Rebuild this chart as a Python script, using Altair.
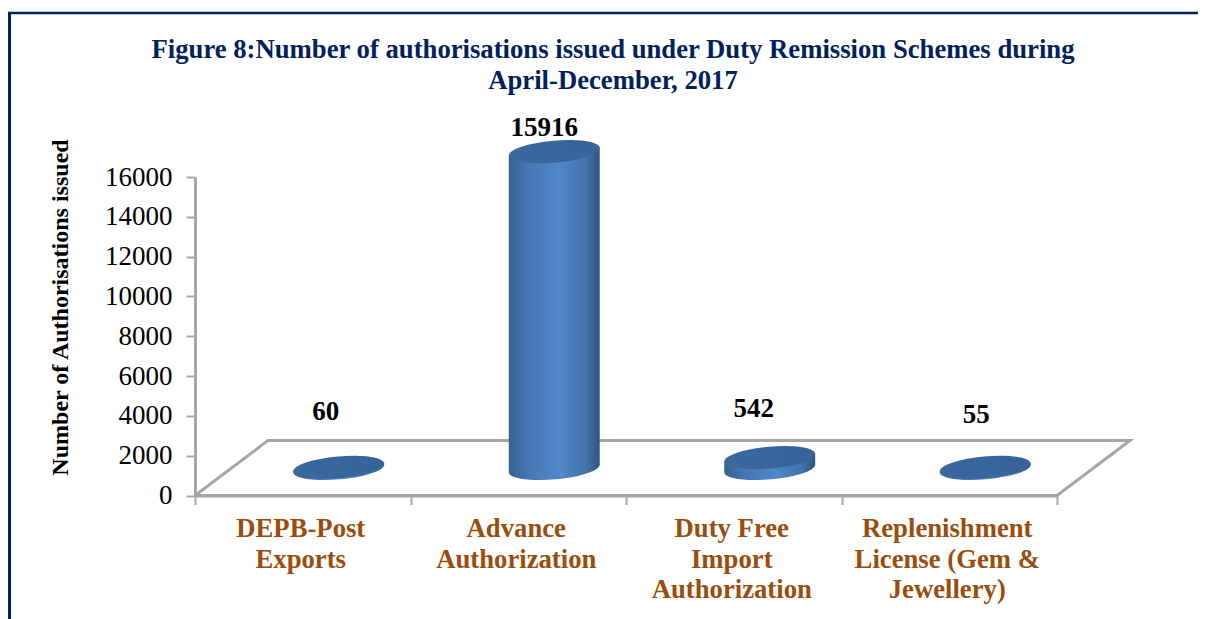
import altair as alt
import pandas as pd

# ---- chart values ----
CATEGORY_LABELS = ["DEPB-Post\nExports", "Advance\nAuthorization",
                   "Duty Free\nImport\nAuthorization",
                   "Replenishment\nLicense (Gem &\nJewellery)"]
CATEGORY_POS = [0.5, 1.5, 2.5, 3.5]
VALUES = [60, 15916, 542, 55]
Y_TICKS = [0, 2000, 4000, 6000, 8000, 10000, 12000, 14000, 16000]
X_TICKS = [0, 1, 2, 3, 4]
TITLE = "Figure 8:Number of authorisations issued under Duty Remission Schemes during\nApril-December, 2017"
Y_TITLE = "Number of Authorisations issued"

# ---- faux 3D projection, in data units ----
DEPTH_X, DEPTH_Y = 0.167, 1358
HALF_W = 0.211
SLANT = 190
FLOOR_X = [0, 0.339, 4.339, 4, 0]
FLOOR_Y = [0, 2767, 2767, 0, 0]

# ---- styles ----
SERIF = "Liberation Serif"
GREY = "#a6a6a6"
NAVY = "#002060"
BROWN = "#9a4d0c"
ELLIPSE = "M-1,0 A1,0.24 0 1,1 1,0 A1,0.24 0 1,1 -1,0 Z"
E_SIZE = 8300
LABEL_SHIFT = [(23, -74), (26, -43), (20, -68), (27, -71)]

body_fill = alt.LinearGradient(gradient="linear", x1=0, x2=1, y1=0, y2=0, stops=[
    alt.GradientStop(color="#36618f", offset=0),
    alt.GradientStop(color="#4676b0", offset=0.2),
    alt.GradientStop(color="#5088cb", offset=0.55),
    alt.GradientStop(color="#4272a8", offset=0.85),
    alt.GradientStop(color="#2f5680", offset=1),
])
top_fill = alt.LinearGradient(gradient="linear", x1=0, x2=1, y1=0, y2=0, stops=[
    alt.GradientStop(color="#3a689f", offset=0),
    alt.GradientStop(color="#376398", offset=1),
])

df = pd.DataFrame({"label": CATEGORY_LABELS, "pos": CATEGORY_POS, "value": VALUES})
df["cx"] = df["pos"] + DEPTH_X
df["base"] = DEPTH_Y
df["top"] = df["value"] + DEPTH_Y

floor = pd.DataFrame({"x": FLOOR_X, "y": FLOOR_Y, "o": range(len(FLOOR_X))})

x_scale = alt.Scale(domain=[0, 4], range=[187, 1049], nice=False, zero=False)
y_scale = alt.Scale(domain=[0, 16000], range=[487.5, 169], nice=False)

x_axis = alt.Axis(
    values=X_TICKS, labels=False, title=None, grid=False, offset=-123.5,
    domainColor=GREY, domainWidth=3, tickColor=GREY, tickWidth=2, tickSize=9)
y_axis = alt.Axis(
    values=Y_TICKS, format="d", title=Y_TITLE, grid=False, offset=-187,
    domainColor=GREY, domainWidth=3, tickColor=GREY, tickWidth=2, tickSize=9,
    labelFont=SERIF, labelFontSize=27, labelColor="black", labelPadding=14,
    titleFont=SERIF, titleFontSize=24, titleFontWeight="bold", titleColor="black",
    titleX=-123, titleY=299)

X = lambda f: alt.X(f, type="quantitative", scale=x_scale, axis=x_axis)
Y = lambda f: alt.Y(f, type="quantitative", scale=y_scale, axis=y_axis)

axes = alt.Chart(floor).mark_line(stroke=GREY, strokeWidth=3, strokeJoin="miter").encode(
    x=X("x"), y=Y("y"), order="o:Q")

base = alt.Chart(df).mark_point(shape=ELLIPSE, size=E_SIZE, filled=True, opacity=1,
                                fill=body_fill, angle=355, strokeWidth=0).encode(
    x=X("cx"), y=Y("base"))

cyl_layers = []
for c, v in zip(df["cx"], VALUES):
    seg = pd.DataFrame({
        "x": [c - HALF_W, c + HALF_W],
        "y": [DEPTH_Y + v - SLANT, DEPTH_Y + v + SLANT],
        "y0": [DEPTH_Y - SLANT, DEPTH_Y + SLANT],
    })
    cyl_layers.append(alt.Chart(seg).mark_area(fill=body_fill, opacity=1).encode(
        x=X("x"), y=Y("y"), y2=alt.Y2("y0")))

top = alt.Chart(df).mark_point(shape=ELLIPSE, size=E_SIZE, filled=True, opacity=1,
                               fill=top_fill, angle=355, strokeWidth=0).encode(
    x=X("cx"), y=Y("top"))

value_layers = [
    alt.Chart(df.iloc[[i]]).mark_text(font=SERIF, fontSize=27, fontWeight="bold", color="black",
                                      baseline="alphabetic", dx=dx, dy=dy).encode(
        x=X("pos"), y=Y("value"), text="value:Q")
    for i, (dx, dy) in enumerate(LABEL_SHIFT)
]

cats = alt.Chart(df).mark_text(font=SERIF, fontSize=26.7, fontWeight="bold", color=BROWN,
                               baseline="alphabetic", lineBreak="\n", lineHeight=30.5, dx=-2).encode(
    x=X("pos"), y=alt.value(529), text="label:N")

title = alt.Chart(pd.DataFrame({"t": [TITLE]})).mark_text(
    font=SERIF, fontSize=26.7, fontWeight="bold", color=NAVY, baseline="alphabetic",
    lineBreak="\n", lineHeight=31).encode(x=alt.value(605), y=alt.value(50), text="t:N")

frame_src = pd.DataFrame({"a": [0]})
frame_top = alt.Chart(frame_src).mark_rule(color=NAVY, strokeWidth=2.5).encode(
    x=alt.value(0), x2=alt.value(1190), y=alt.value(5))
frame_left = alt.Chart(frame_src).mark_rule(color=NAVY, strokeWidth=3).encode(
    x=alt.value(1.5), y=alt.value(4), y2=alt.value(611))

chart = alt.layer(axes, base, *cyl_layers, top, *value_layers, cats, title, frame_top, frame_left).properties(
    width=1190, height=611, padding=0,
    autosize=alt.AutoSizeParams(type="none"),
    background="white",
).configure_view(stroke=None)

chart.save("out.html", embed_options={"renderer": "svg", "actions": False})
